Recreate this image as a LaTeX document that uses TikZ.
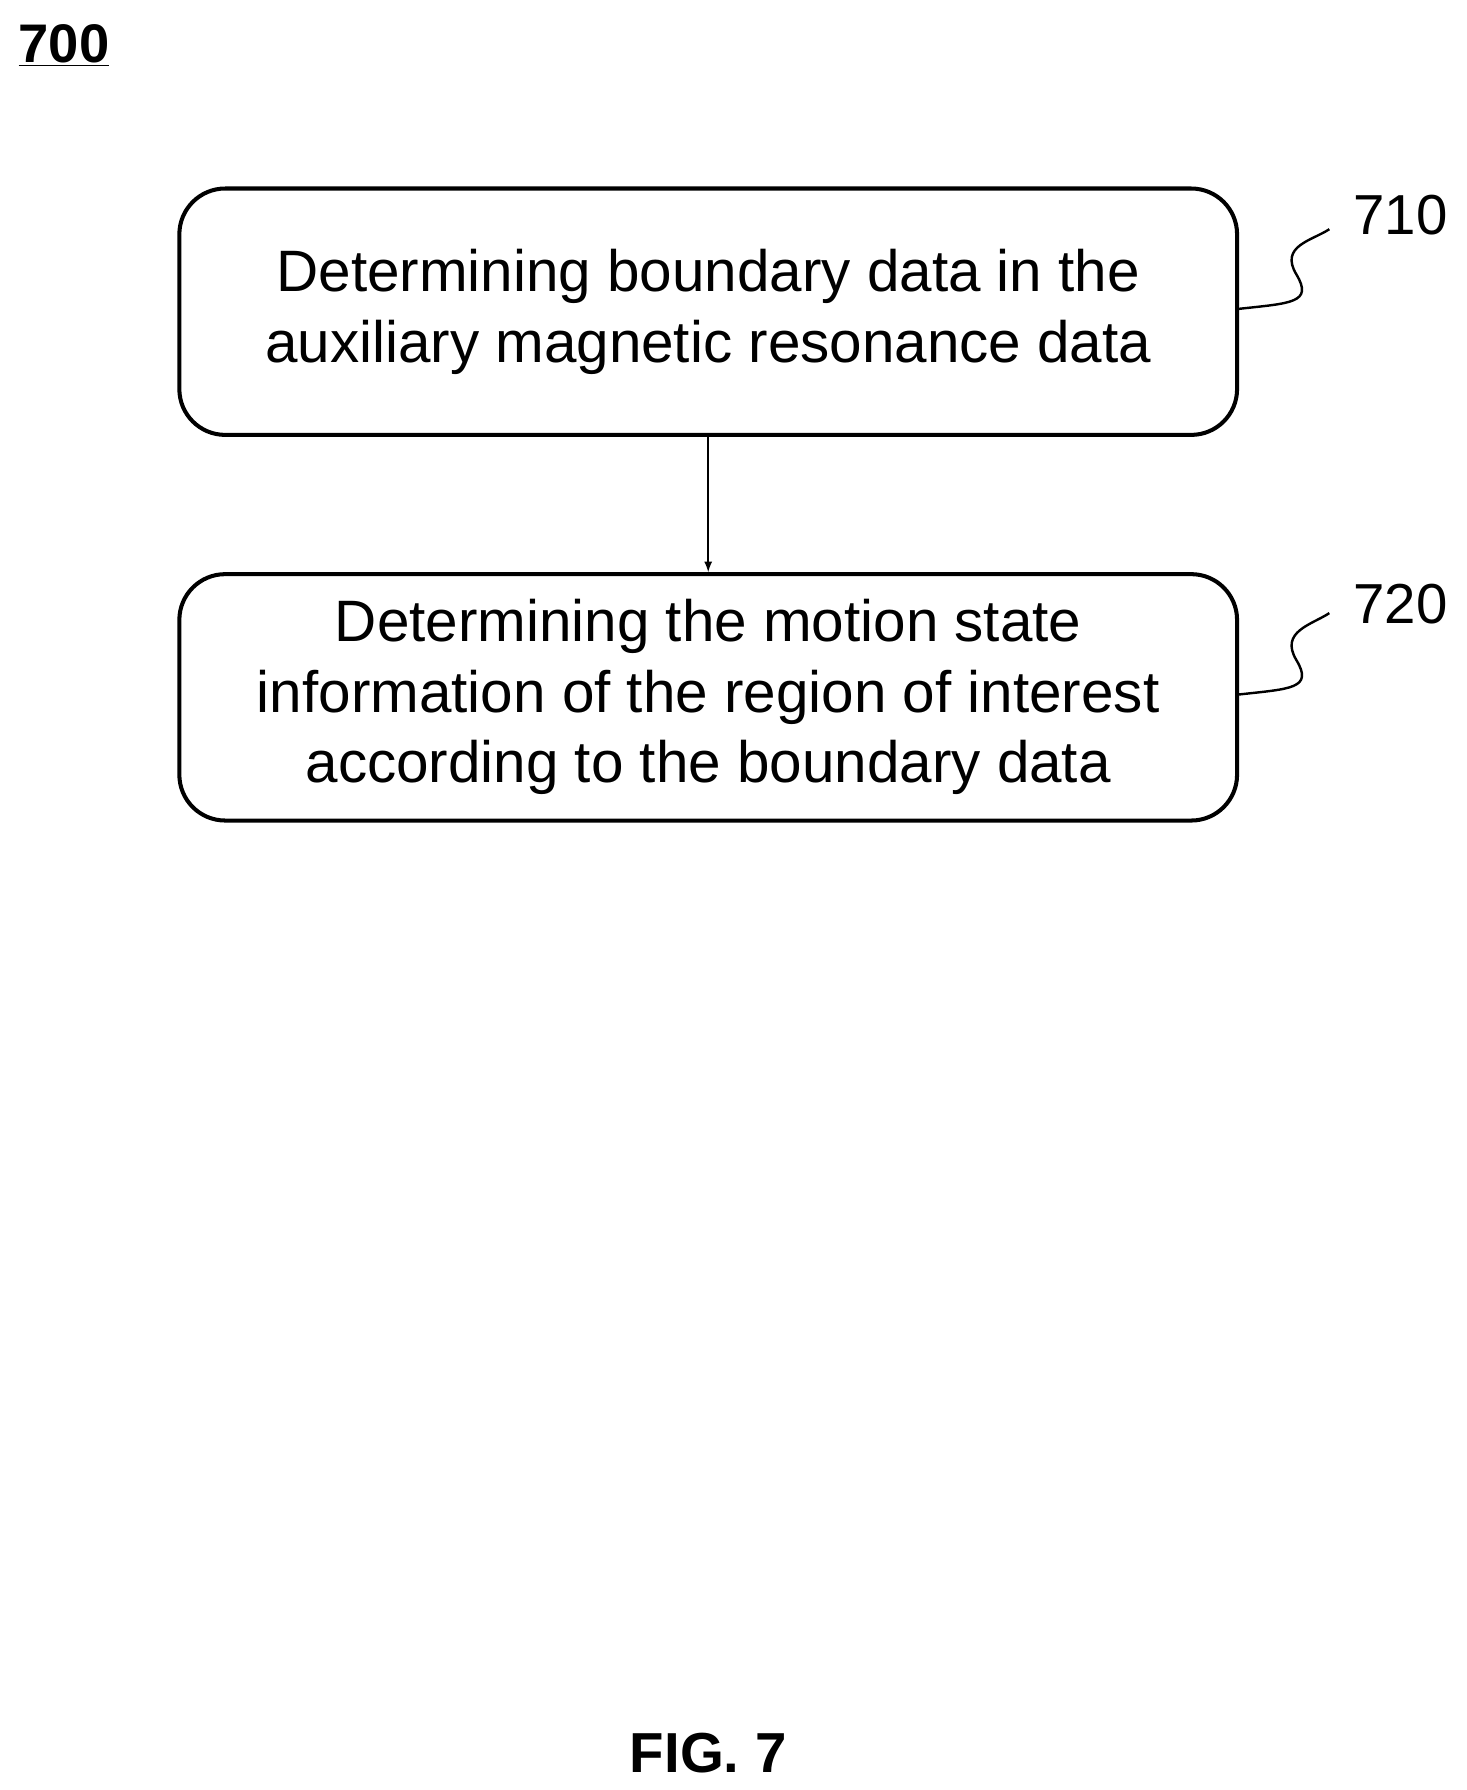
\documentclass[tikz,border=0pt]{standalone}
\usepackage{fontspec}
\setmainfont{Liberation Sans}
\usetikzlibrary{positioning}
\tikzset{
  stepbox/.style={draw, line width=2pt, rounded corners=0.8cm, minimum width=18.46cm, minimum height=4.3cm, align=center, font=\fontsize{29}{35}\selectfont},
  refnum/.style={font=\fontsize{28}{32}\selectfont, anchor=west},
  squiggle/.style={line width=1.2pt}
}
\begin{document}
\begin{tikzpicture}
\useasboundingbox (0,0) rectangle (25.6,-31.24);
\node[font=\bfseries\fontsize{27}{30}\selectfont, anchor=west] (title) at (0.2,-0.8) {\underline{700}};
\node[stepbox] (s710) at (12.36,-5.44) {Determining boundary data in the\\auxiliary magnetic resonance data};
\node[stepbox, below=2.36cm of s710] (s720) {Determining the motion state\\information of the region of interest\\according to the boundary data};
\node[refnum] (n710) at (23.5,-3.75) {710};
\node[refnum] (n720) at (23.5,-10.55) {720};
\coordinate (c710) at (23.2,-4.0);
\coordinate (c720) at (23.2,-10.7);
\draw[squiggle] ([yshift=0.05cm]s710.east) .. controls +(0.9,0.1) and +(0.3,-0.5) .. ++(1.0,0.6) .. controls +(-0.3,0.5) and +(-0.3,-0.2) .. (c710);
\draw[squiggle] ([yshift=0.05cm]s720.east) .. controls +(0.9,0.1) and +(0.3,-0.5) .. ++(1.0,0.6) .. controls +(-0.3,0.5) and +(-0.3,-0.2) .. (c720);
\draw[-latex, thick] (s710) -- (s720);
\node[font=\bfseries\fontsize{28}{32}\selectfont] (fig) at (12.36,-30.6) {FIG. 7};
\end{tikzpicture}
\end{document}
